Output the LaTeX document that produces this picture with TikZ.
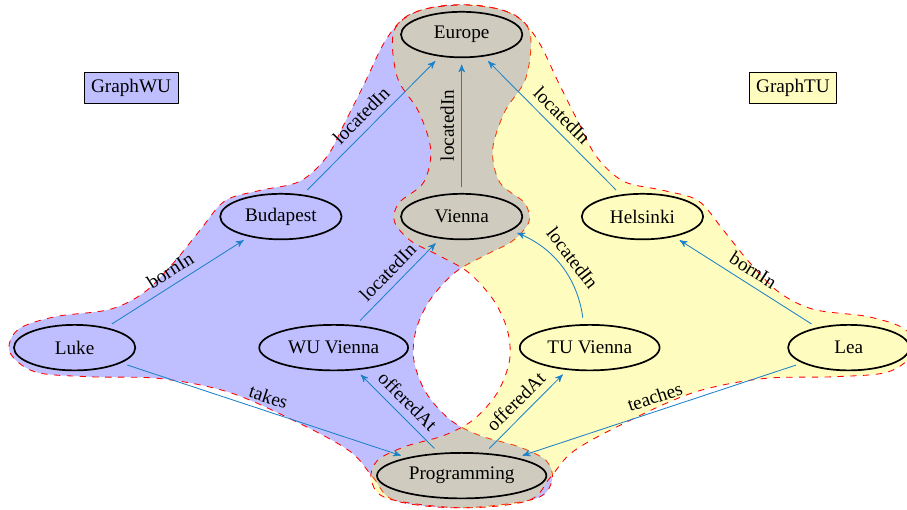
\documentclass[tikz,border=0pt]{standalone}
\usepackage{fontspec}
\setmainfont{Liberation Serif}
\usepackage{xcolor}
\usetikzlibrary{arrows,shapes.geometric}
\definecolor{linkcol}{RGB}{30,130,200}

% outline of one graph, the other one is its mirror image
\newcommand{\graphblob}{plot[smooth cycle,tension=0.55] coordinates {
	(7.61,8.32) (8.32,8.22) (8.73,7.88) (8.67,7.12) (8.32,6.56) (8.12,5.93)
	(8.24,5.39) (8.64,5.06) (8.72,4.75) (8.45,4.43) (7.99,4.19) (7.50,3.91)
	(7.09,3.46) (6.86,2.97) (6.82,2.47) (7.02,1.93) (7.42,1.48) (7.91,1.22)
	(8.54,1.04) (9.00,0.81) (9.10,0.49) (8.82,0.18) (7.61,0.03) (6.51,0.15)
	(6.15,0.53) (5.77,0.96) (4.94,1.42) (3.79,1.93) (2.64,2.16) (1.48,2.19)
	(0.58,2.27) (0.16,2.60) (0.30,2.97) (0.91,3.18) (1.81,3.30) (2.39,3.59)
	(2.88,4.09) (3.30,4.61) (3.71,5.09) (4.28,5.26) (4.94,5.41) (5.39,5.82)
	(5.69,6.39) (6.02,7.05) (6.34,7.71) (6.67,8.11) (7.09,8.27)}}

\begin{document}
\begin{tikzpicture}[line join=round,x=1.0cm,y=1.0cm,font=\small,
	ent/.style={ellipse,draw,thick,minimum width=2cm,minimum height=0.75cm},
	graphbox/.style={rectangle,draw},
	region/.style={draw=red,dashed,fill opacity=0.25},
	rel/.style={->,>=stealth',color=linkcol,shorten >=3pt,shorten <=3pt},
	lab/.style={midway,above,sloped,text=black}]
	\clip(0,0) rectangle (14.95,8.40);
	% the two graphs
	\draw[region,fill=blue] \graphblob;
	\draw[region,fill=yellow,xshift=15.22cm,xscale=-1] \graphblob;
	% entities
	\node[ent] (europe) at (7.61,7.83) {Europe};
	\node[ent] (vienna) at (7.61,4.83) {Vienna};
	\node[ent] (budapest) at (4.63,4.83) {Budapest};
	\node[ent] (helsinki) at (10.59,4.83) {Helsinki};
	\node[ent] (luke) at (1.23,2.67) {Luke};
	\node[ent] (wuvienna) at (5.50,2.67) {WU Vienna};
	\node[ent] (tuvienna) at (9.72,2.67) {TU Vienna};
	\node[ent] (lea) at (13.99,2.67) {Lea};
	\node[ent] (prog) at (7.61,0.56) {Programming};
	\node[graphbox,fill=blue!25] (wulabel) at (2.16,6.95) {GraphWU};
	\node[graphbox,fill=yellow!25] (tulabel) at (13.07,6.95) {GraphTU};
	% relations
	\draw[rel] (luke) -- node[lab] {bornIn} (budapest);
	\draw[rel] (budapest) -- node[lab] {locatedIn} (europe);
	\draw[rel] (vienna) -- node[lab] {locatedIn} (europe);
	\draw[rel] (helsinki) -- node[lab] {locatedIn} (europe);
	\draw[rel] (wuvienna) -- node[lab] {locatedIn} (vienna);
	\draw[rel] (tuvienna) to[bend right=30] node[lab] {locatedIn} (vienna);
	\draw[rel] (lea) -- node[lab] {bornIn} (helsinki);
	\draw[rel] (luke) -- node[lab] {takes} (prog);
	\draw[rel] (prog) -- node[lab] {offeredAt} (wuvienna);
	\draw[rel] (prog) -- node[lab] {offeredAt} (tuvienna);
	\draw[rel] (lea) -- node[lab] {teaches} (prog);
\end{tikzpicture}
\end{document}
